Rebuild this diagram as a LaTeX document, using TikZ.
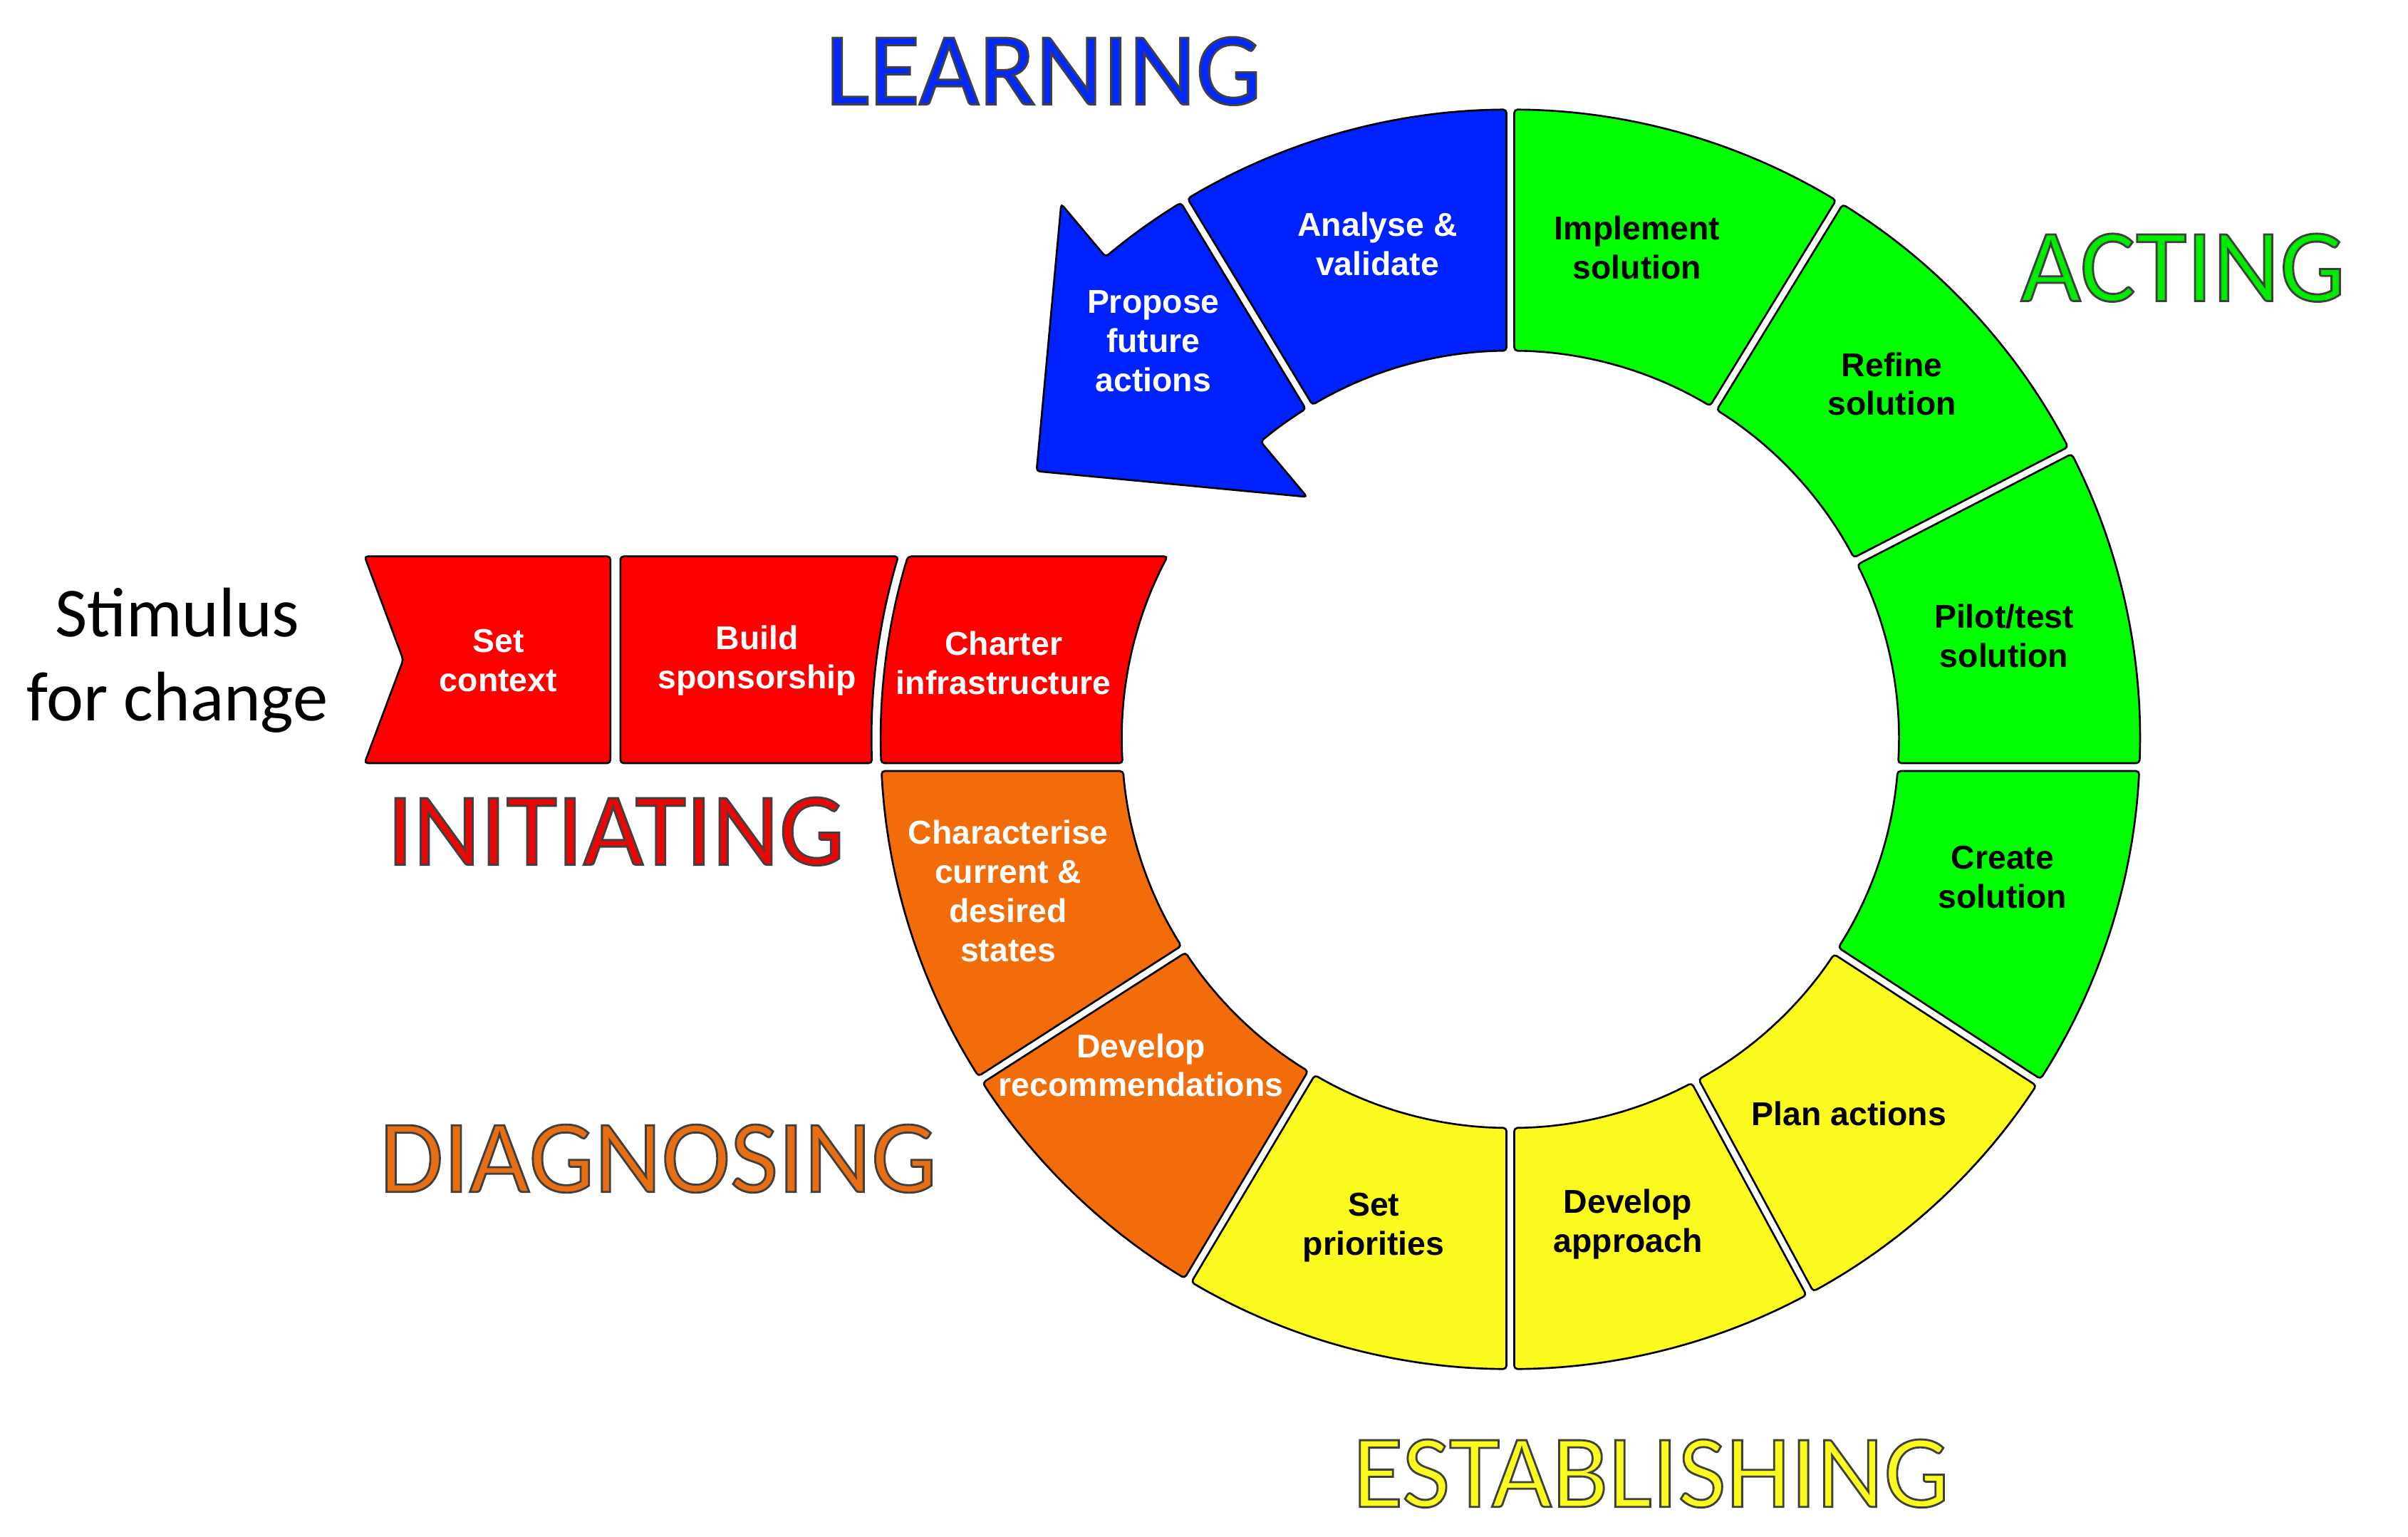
\documentclass[tikz,border=0pt]{standalone}
\usepackage{fontspec}
\setmainfont{Liberation Sans}
\newfontfamily\phasefont{Carlito}
\usepackage{tikz}
\usetikzlibrary{calc}
\definecolor{ringgreen}{RGB}{0,255,0}
\definecolor{ringyellow}{RGB}{250,250,30}
\definecolor{ringorange}{RGB}{242,108,10}
\definecolor{ringred}{RGB}{255,0,0}
\definecolor{ringblue}{RGB}{0,34,255}
\definecolor{learnblue}{RGB}{0,40,255}
\definecolor{actgreen}{RGB}{0,235,0}
\definecolor{initred}{RGB}{232,8,8}
\definecolor{diagorange}{RGB}{232,110,20}
\definecolor{estyellow}{RGB}{250,250,30}
\newcommand{\ringseg}[5]{\draw[seg, fill=#1] ({#2}:410) arc[start angle={#2}, end angle={#3}, radius=410] -- ({#4}:253) arc[start angle={#4}, end angle={#5}, radius=253] -- cycle;}
\newcommand{\outlined}[1]{\special{pdf:code 2 Tr 0.75 w 0.25 0.25 0.25 RG}#1\special{pdf:code 0 Tr}}

\begin{document}
\begin{tikzpicture}[x=0.02cm, y=0.02cm,
    seg/.style={draw=black, line width=0.7pt, rounded corners=1.2pt},
    stage/.style={font=\fontsize{12.25}{14.5}\selectfont\bfseries, align=center},
    phase/.style={font=\phasefont\fontsize{38.5}{40}\selectfont, anchor=base}]
      \useasboundingbox (-983.5,-518.9) rectangle (584.5,481.3);
      \pgfmathsetmacro\go{asin(2.55/410)}
      \pgfmathsetmacro\gi{asin(2.55/253)}
      \pgfmathsetmacro\hot{asin(15.55/410)}
      \pgfmathsetmacro\hit{asin(15.55/253)}
      \pgfmathsetmacro\hob{asin(20.65/410)}
      \pgfmathsetmacro\hib{asin(20.65/253)}
      \ringseg{ringgreen}{90-\go}{58.5+\go}{58.5+\gi}{90-\gi}
      \ringseg{ringgreen}{58.5-\go}{27.3+\go}{27.3+\gi}{58.5-\gi}
      \ringseg{ringgreen}{27.3-\go}{-\hot}{-\hit}{27.3-\gi}
      \ringseg{ringgreen}{-\hob}{-33+\go}{-33+\gi}{-\hib}
      \ringseg{ringyellow}{-33-\go}{-61.6+\go}{-61.6+\gi}{-33-\gi}
      \ringseg{ringyellow}{-61.6-\go}{-90+\go}{-90+\gi}{-61.6-\gi}
      \ringseg{ringyellow}{-90-\go}{-120.8+\go}{-120.8+\gi}{-90-\gi}
      \ringseg{ringorange}{-120.8-\go}{-147.3+\go}{-147.3+\gi}{-120.8-\gi}
      \ringseg{ringorange}{-147.3-\go}{-180+\hob}{-180+\hib}{-147.3-\gi}
      \ringseg{ringblue}{121.2-\go}{90+\go}{90+\gi}{121.2-\gi}
      \draw[seg, fill=ringblue] ({121.2+\go}:410) arc[start angle={121.2+\go}, end angle=130, radius=410] -- (130:455) -- (150.5:354.5) -- (130:206) -- (130:253) arc[start angle=130, end angle={121.2+\gi}, radius=253] -- cycle;
      \draw[seg, fill=ringred] (-746.1,119.1) -- (-586,119.1) -- (-586,-15.55) -- (-746.1,-15.55) -- (-720.9,51.8) -- cycle;
      \draw[seg, fill=ringred] (-579.5,119.1) -- ({180-asin(119.1/416)}:416) arc[start angle={180-asin(119.1/416)}, end angle={180+asin(15.55/416)}, radius=416] -- (-579.5,-15.55) -- cycle;
      \draw[seg, fill=ringred] ({180-asin(119.1/253)}:253) arc[start angle={180-asin(119.1/253)}, end angle={180+\hit}, radius=253] -- ({180+\hot}:410) arc[start angle={180+\hot}, end angle={180-asin(119.1/410)}, radius=410] -- cycle;
      \node[stage, text=white] (analyse) at (-86.5,322.3) {Analyse \&\\validate};
      \node[stage, text=white] (propose) at (-232.5,259.3) {Propose\\future\\actions};
      \node[stage] (implement) at (82.5,320.3) {Implement\\solution};
      \node[stage] (refine) at (248.5,231.3) {Refine\\solution};
      \node[stage] (pilot) at (321.5,67.3) {Pilot/test\\solution};
      \node[stage] (create) at (320.5,-89.7) {Create\\solution};
      \node[stage] (plan) at (220.5,-243.7) {Plan actions};
      \node[stage] (approach) at (76.5,-315.7) {Develop\\approach};
      \node[stage] (priorities) at (-89,-317.7) {Set\\priorities};
      \node[stage, text=white] (recommend) at (-240.5,-212.2) {Develop\\recommendations};
      \node[stage, text=white] (states) at (-327,-98.7) {Characterise\\current \&\\desired\\states};
      \node[stage, text=white] (context) at (-659,51.3) {Set\\context};
      \node[stage, text=white] (sponsor) at (-490.5,51.3) {Build\\sponsorship};
      \node[stage, text=white] (charter) at (-330,49.8) {Charter\\infrastructure};
      \node[font=\phasefont\fontsize{26}{31.2}\selectfont, align=center] (stimulus) at (-868,51.3) {Stimulus\\for change};
      \node[phase, text=learnblue] (learning) at (-304,413.3) {\outlined{LEARNING}};
      \node[phase, text=actgreen] (acting) at (438,285.3) {\outlined{ACTING}};
      \node[phase, text=initred] (initiating) at (-582.5,-81.7) {\outlined{INITIATING}};
      \node[phase, text=diagorange] (diagnosing) at (-555,-294.7) {\outlined{DIAGNOSING}};
      \node[phase, text=estyellow] (establishing) at (91.5,-499.7) {\outlined{ESTABLISHING}};
\end{tikzpicture}
\end{document}
